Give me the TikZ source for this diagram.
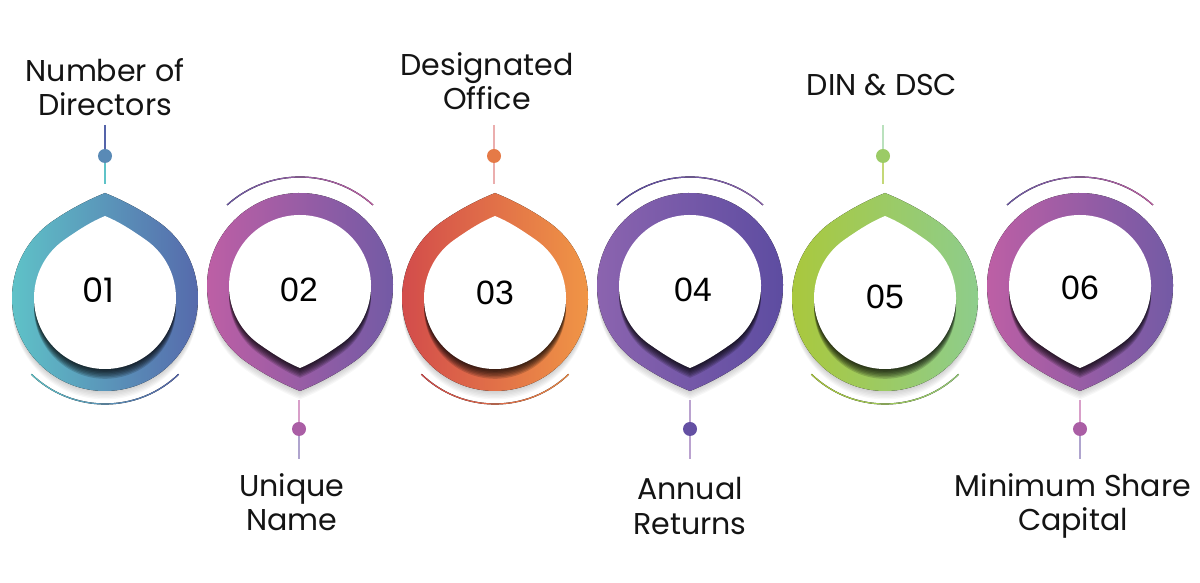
\documentclass[tikz,border=0pt]{standalone}
\usepackage{fontspec}
\usepackage{xcolor}
\usepackage{tikz}
\usetikzlibrary{positioning}
\newfontfamily\poppins{Poppins}
\newfontfamily\arialsans{Liberation Sans}

\definecolor{dropAL}{HTML}{5FC3C8}
\definecolor{dropAR}{HTML}{5564AA}
\definecolor{dropBL}{HTML}{BE5FA5}
\definecolor{dropBR}{HTML}{6E5AA5}
\definecolor{dropCL}{HTML}{D24B4B}
\definecolor{dropCR}{HTML}{F29A45}
\definecolor{dropDL}{HTML}{8C64AF}
\definecolor{dropDR}{HTML}{5A4BA0}
\definecolor{dropEL}{HTML}{AAC83C}
\definecolor{dropER}{HTML}{8CCD91}

% teardrop outline: radius #1, tip #2 above the centre
\newcommand\droppath[2]{(0,#2) .. controls ({0.2*#1},{#2-0.081*#1}) and ({0.398*#1},{0.942*#1}) .. (55:#1)
  arc[start angle=55, end angle=-235, radius=#1]
  .. controls ({-0.398*#1},{0.942*#1}) and ({-0.2*#1},{#2-0.081*#1}) .. (0,#2) -- cycle}

\begin{document}
\begin{tikzpicture}[
  x=0.025cm,y=0.025cm,
  lbl/.style={font=\poppins\fontsize{21.4}{24.5}\selectfont,align=center,text=black!92,inner sep=0pt},
  num/.style={font=\arialsans\fontsize{24}{28}\selectfont,text=black,inner sep=0pt},
  dot/.style={circle,minimum size=0.35cm,inner sep=0pt},
  stem/.style={line width=0.8pt}
]
\useasboundingbox (0,0) rectangle (1200,583);

% Drops
\foreach \cx/\cy/\s/\cl/\cr in {105/285/1/dropAL/dropAR, 300/297/-1/dropBL/dropBR,
    495/285/1/dropCL/dropCR, 690/297/-1/dropDL/dropDR,
    885/285/1/dropEL/dropER, 1080/297/-1/dropBL/dropBR}{
  % soft shadow
  \foreach \k in {1,...,6}
    \fill[black,opacity=0.03,shift={(\cx,\cy-1.4*\k)},yscale=\s] \droppath{93}{105};
  % ring
  \fill[left color=\cl,right color=\cr,shift={(\cx,\cy)},yscale=\s] \droppath{93}{105};
  % inner shadow
  \begin{scope}
    \clip[shift={(\cx,\cy)},yscale=\s] \droppath{93}{105};
    \foreach \k in {1,...,7}
      \fill[black,opacity=0.16,shift={(\cx,\cy-1.4*\k)},yscale=\s] \droppath{71}{82};
  \end{scope}
  \fill[white,shift={(\cx,\cy)},yscale=\s] \droppath{71}{82};
}

% Arcs
\fill[shift={(105,285)},left color=dropAL,right color=dropAR]
  (226:106.6) arc[start angle=226,end angle=314,radius=106.6] -- (314:105.4) arc[start angle=314,end angle=226,radius=105.4] -- cycle;
\fill[shift={(495,285)},left color=dropCL,right color=dropCR!80!dropCL]
  (226:106.6) arc[start angle=226,end angle=314,radius=106.6] -- (314:105.4) arc[start angle=314,end angle=226,radius=105.4] -- cycle;
\fill[shift={(885,285)},left color=dropEL,right color=dropER!70!dropEL]
  (226:106.6) arc[start angle=226,end angle=314,radius=106.6] -- (314:105.4) arc[start angle=314,end angle=226,radius=105.4] -- cycle;
\fill[shift={(300,297)},left color=dropBR,right color=dropBL]
  (48:109.6) arc[start angle=48,end angle=132,radius=109.6] -- (132:108.4) arc[start angle=132,end angle=48,radius=108.4] -- cycle;
\fill[shift={(690,297)},left color=dropDR,right color=dropDL]
  (48:109.6) arc[start angle=48,end angle=132,radius=109.6] -- (132:108.4) arc[start angle=132,end angle=48,radius=108.4] -- cycle;
\fill[shift={(1080,297)},left color=dropBR,right color=dropBL]
  (48:109.6) arc[start angle=48,end angle=132,radius=109.6] -- (132:108.4) arc[start angle=132,end angle=48,radius=108.4] -- cycle;

% Numbers
\node[num,font=\poppins\fontsize{24}{28}\selectfont] (n1) at (98,293) {01};
\node[num] (n2) at (299,293) {02};
\node[num] (n3) at (495,290) {03};
\node[num] (n4) at (693,293) {04};
\node[num] (n5) at (885,286) {05};
\node[num] (n6) at (1080,295) {06};

% Stems and dots
\node[dot,fill=dropAR!60!dropAL] (d1) at (105,427) {};
\node[dot,fill=dropBL!75!dropBR] (d2) at (299,154) {};
\node[dot,fill=dropCL!40!dropCR] (d3) at (494,427) {};
\node[dot,fill=dropDR!80!dropDL] (d4) at (690,154) {};
\node[dot,fill=dropEL!50!dropER] (d5) at (883,427) {};
\node[dot,fill=dropBL!75!dropBR] (d6) at (1080,154) {};
\coordinate (t1) at (105,458); \coordinate (b1) at (105,399);
\coordinate (t2) at (299,183); \coordinate (b2) at (299,124);
\coordinate (t3) at (494,458); \coordinate (b3) at (494,399);
\coordinate (t4) at (690,183); \coordinate (b4) at (690,124);
\coordinate (t5) at (883,458); \coordinate (b5) at (883,399);
\coordinate (t6) at (1080,183); \coordinate (b6) at (1080,124);
\draw[stem,dropAR] (t1) -- (d1);
\draw[stem,dropAL] (d1) -- (b1);
\draw[stem,dropBL!60] (t2) -- (d2);
\draw[stem,dropBR!55] (d2) -- (b2);
\draw[stem,dropCL!45] (t3) -- (d3);
\draw[stem,dropCL!45] (d3) -- (b3);
\draw[stem,dropDL!60] (t4) -- (d4);
\draw[stem,dropDL!60] (d4) -- (b4);
\draw[stem,dropER!60] (t5) -- (d5);
\draw[stem,dropEL!70] (d5) -- (b5);
\draw[stem,dropBL!60] (t6) -- (d6);
\draw[stem,dropBR!55] (d6) -- (b6);

% Labels
\node[lbl] (l1) at (105,496) {Number of\\Directors};
\node[lbl] (l2) at (292,81) {Unique\\Name};
\node[lbl] (l3) at (487,502) {Designated\\Office};
\node[lbl] (l4) at (690,77) {Annual\\Returns};
\node[lbl] (l5) at (882,498) {DIN \& DSC};
\node[lbl] (l6) at (1073,77) {Minimum Share\\Capital};
\end{tikzpicture}
\end{document}
